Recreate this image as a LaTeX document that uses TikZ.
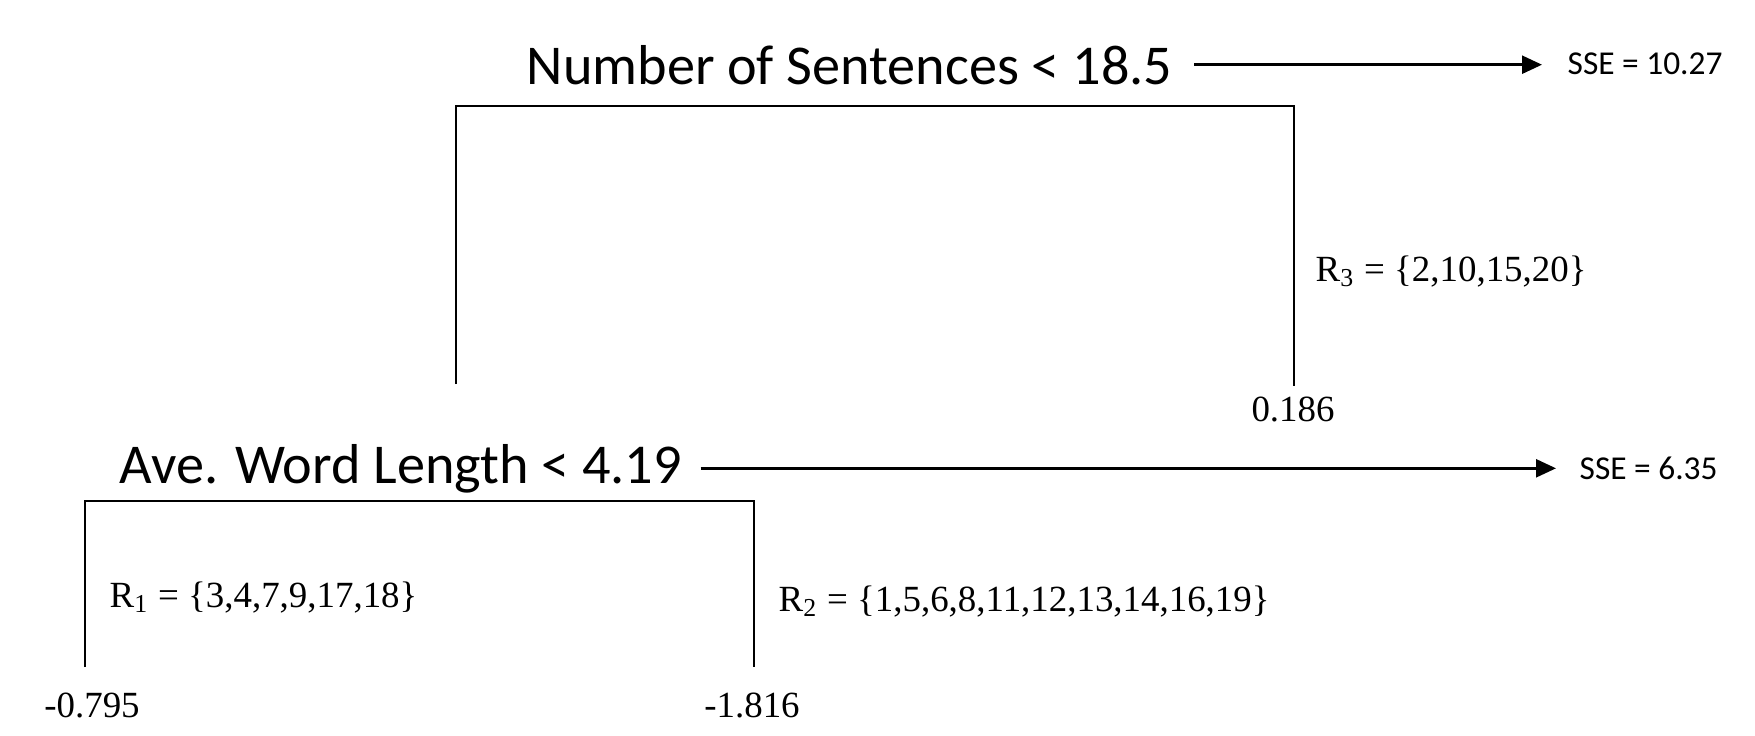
\documentclass[tikz,border=0pt]{standalone}
\usepackage{fontspec}
\setmainfont{Liberation Serif}
\newfontfamily\calibri{Carlito}
\usetikzlibrary{arrows.meta,positioning}

\begin{document}
\begin{tikzpicture}[
  split/.style={font=\calibri\fontsize{16}{19}\selectfont, inner sep=0pt, anchor=base west},
  sse/.style={font=\calibri\fontsize{9.5}{11}\selectfont, inner sep=0pt, anchor=base west},
  region/.style={font=\fontsize{10.5}{12}\selectfont, inner sep=0pt, anchor=base west},
  leaf/.style={font=\fontsize{10.5}{12}\selectfont, inner sep=0pt, anchor=base},
  branch/.style={line width=0.7pt, draw=black},
  gain/.style={line width=0.7pt, draw=black, -{Triangle[length=2mm,width=1.8mm]}}
]
  \useasboundingbox (0,0) rectangle (17.55,7.35);

  % First split
  \node[split] (nsent) at (5.26, 6.51) {Number of Sentences < 18.5};
  \node[sse]   (sse1)  at (15.67, 6.61) {SSE = 10.27};
  \draw[gain, shorten <=2.1mm, shorten >=2.5mm] (nsent.east) -- (nsent.east -| sse1.west);

  \coordinate (s1l) at (4.56, 3.51);
  \coordinate (s1bar) at (4.56, 6.29);
  \coordinate (s1r) at (12.94, 3.49);
  \draw[branch] (s1l) -- (s1bar) -| (s1r);
  \node[region] (r3) at (13.15, 4.54) {R\textsubscript{3} = \{2,10,15,20\}};
  \node[leaf]   (v186) at (12.93, 3.14) {0.186};

  % Second split
  \node[split] (awl)  at (1.19, 2.52) {Ave. Word Length < 4.19};
  \node[sse]   (sse2) at (15.79, 2.56) {SSE = 6.35};
  \draw[gain, shorten <=1.8mm, shorten >=2.3mm] (awl.east) -- (awl.east -| sse2.west);

  \coordinate (s2l) at (0.85, 0.68);
  \coordinate (s2bar) at (0.85, 2.34);
  \coordinate (s2r) at (7.54, 0.68);
  \draw[branch] (s2l) -- (s2bar) -| (s2r);
  \node[region] (r1) at (1.09, 1.28) {R\textsubscript{1} = \{3,4,7,9,17,18\}};
  \node[region] (r2) at (7.78, 1.24) {R\textsubscript{2} = \{1,5,6,8,11,12,13,14,16,19\}};
  \node[leaf]   (v795) at (0.92, 0.18) {-0.795};
  \node[leaf]   (v816) at (7.52, 0.18) {-1.816};
\end{tikzpicture}
\end{document}
